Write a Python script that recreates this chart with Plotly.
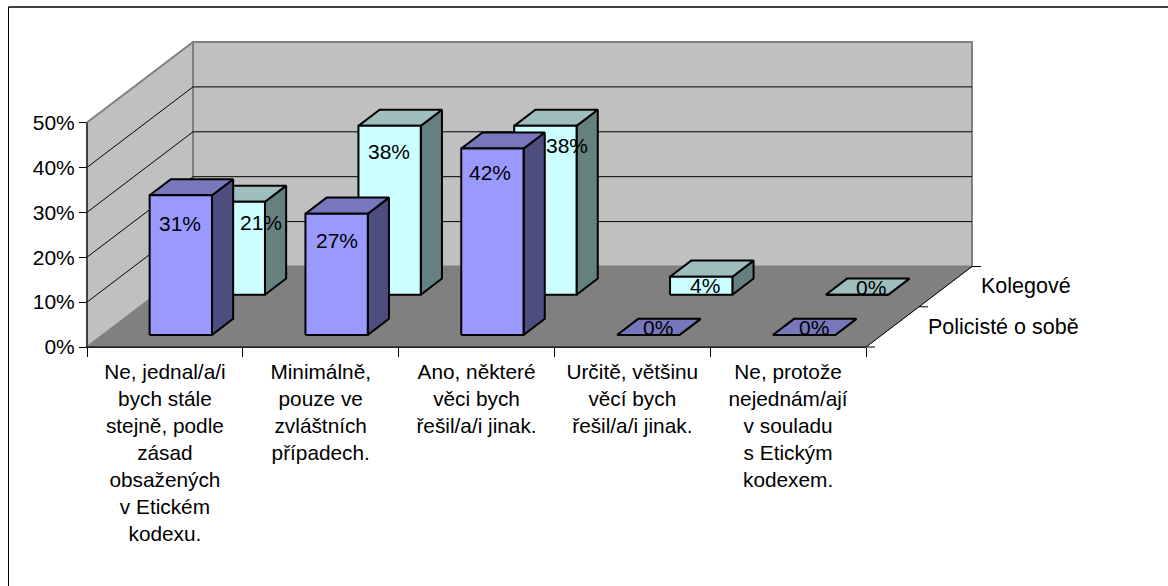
import plotly.graph_objects as go

categories = ["Ne, jednal/a/i<br>bych stále<br>stejně, podle<br>zásad<br>obsažených<br>v Etickém<br>kodexu.",
              "Minimálně,<br>pouze ve<br>zvláštních<br>případech.",
              "Ano, některé<br>věci bych<br>řešil/a/i jinak.",
              "Určitě, většinu<br>věcí bych<br>řešil/a/i jinak.",
              "Ne, protože<br>nejednám/ají<br>v souladu<br>s Etickým<br>kodexem."]
policiste = [31.1, 27.0, 41.5, 0, 0]
kolegove = [20.7, 37.6, 37.6, 4.0, 0]
series_names = ["Policisté o sobě", "Kolegové"]
value_ticks = [0, 10, 20, 30, 40, 50]
value_tick_labels = ["0%", "10%", "20%", "30%", "40%", "50%"]

W, H = 1168, 586
X0, X1, Y0, Y1 = 87, 866, 347, 122.5
PX_CAT = (X1 - X0) / 5
PX_PCT = (Y0 - Y1) / 50
DEPTH_X = 106 / PX_CAT      # category units per full depth
DEPTH_Y = 80.5 / PX_PCT     # percent units per full depth
YMAX = 50
NCAT = 5

WALL, FLOOR, EDGE = "#C0C0C0", "#808080", "#808080"
S1 = dict(front="#9999FF", top="#7777BB", side="#4D4D80")
S2 = dict(front="#CCFFFF", top="#9FBFBF", side="#668080")

fig = go.Figure()

def pr(c, v, d):
    return c + d * DEPTH_X, v + d * DEPTH_Y

def poly(pts, fill=None, line="black", width=2):
    xs, ys = zip(*[pr(*p) for p in pts + pts[:1]])
    fig.add_trace(go.Scatter(x=xs, y=ys, xaxis="x2", yaxis="y2", mode="lines",
                             fill="toself" if fill else None, fillcolor=fill,
                             line=dict(color=line, width=width),
                             hoverinfo="skip", showlegend=False))

def seg(a, b, color="black", width=1):
    xs, ys = zip(pr(*a), pr(*b))
    fig.add_trace(go.Scatter(x=xs, y=ys, xaxis="x2", yaxis="y2", mode="lines",
                             line=dict(color=color, width=width),
                             hoverinfo="skip", showlegend=False))

# the visible category/value axes need a trace of their own to be drawn
fig.add_trace(go.Scatter(x=[0], y=[0], mode="markers", opacity=0, hoverinfo="skip", showlegend=False))

# walls and floor
poly([(0, 0, 0), (0, YMAX, 0), (0, YMAX, 1), (0, 0, 1)], WALL, EDGE, 2)
poly([(0, 0, 1), (0, YMAX, 1), (NCAT, YMAX, 1), (NCAT, 0, 1)], WALL, EDGE, 2)
poly([(0, 0, 0), (0, 0, 1), (NCAT, 0, 1), (NCAT, 0, 0)], FLOOR, FLOOR, 1)
for v in value_ticks[1:-1]:
    seg((0, v, 0), (0, v, 1))
    seg((0, v, 1), (NCAT, v, 1))

# front axis lines and depth axis
seg((0, 0, 0), (NCAT, 0, 0))
seg((0, 0, 0), (0, YMAX, 0))
seg((NCAT, 0, 0), (NCAT, 0, 1))
TICK = 9 / PX_CAT
for d in (0, 0.5, 1):
    seg((NCAT, 0, d), (NCAT + TICK, 0, d))

def bar(i, v, d0, d1, col):
    c0, c1 = i + 0.3, i + 0.7
    poly([(c1, 0, d0), (c1, 0, d1), (c1, v, d1), (c1, v, d0)], col["side"])
    poly([(c0, v, d0), (c0, v, d1), (c1, v, d1), (c1, v, d0)], col["top"])
    poly([(c0, 0, d0), (c0, v, d0), (c1, v, d0), (c1, 0, d0)], col["front"])

for i, v in enumerate(kolegove):
    bar(i, v, 0.65, 0.85, S2)
for i, v in enumerate(policiste):
    bar(i, v, 0.15, 0.35, S1)

FS = 21
FONT = "Liberation Sans"
label_nudge_s1 = [(-1, 28), (0, 27), (-2, 24), (10, -7), (10, -7)]
label_nudge_s2 = [(27, 21), (-1, 26), (22, 20), (4, 9), (14, -7)]
ann = []
for vals, d, nudges in ((policiste, 0.15, label_nudge_s1), (kolegove, 0.65, label_nudge_s2)):
    for i, v in enumerate(vals):
        x, y = pr(i + 0.5, v, d)
        ann.append(dict(x=x, y=y, xref="x2", yref="y2", text=f"{v:.0f}%", showarrow=False,
                        xshift=nudges[i][0], yshift=-nudges[i][1],
                        font=dict(size=FS, color="black", family=FONT)))
for name, d, ys in ((series_names[0], 0.25, 0), (series_names[1], 0.75, 1)):
    x, y = pr(NCAT, 0, d)
    ann.append(dict(x=x, y=y, xref="x2", yref="y2", text=name, showarrow=False,
                    xanchor="left", xshift=33, yshift=ys, font=dict(size=21.5, color="black", family=FONT)))

fig.update_layout(
    width=W, height=H, margin=dict(l=0, r=0, t=0, b=0, pad=0, autoexpand=False), autosize=False,
    paper_bgcolor="white", plot_bgcolor="rgba(0,0,0,0)", showlegend=False,
    font=dict(family=FONT, size=FS, color="black"), annotations=ann,
    xaxis=dict(domain=[X0 / W, X1 / W], range=[0, NCAT], tickmode="array", anchor="y",
               tickvals=[i + 0.5 for i in range(NCAT)], ticktext=categories,
               ticks="outside", ticklen=6, tickcolor="rgba(0,0,0,0)", tickangle=0,
               tickfont=dict(size=20.8),
               minor=dict(tickmode="array", tickvals=list(range(NCAT + 1)), ticks="outside",
                          ticklen=9, tickcolor="black", tickwidth=1),
               showgrid=False, zeroline=False, showline=True, linecolor="black", linewidth=1),
    yaxis=dict(domain=[1 - Y0 / H, 1 - Y1 / H], range=[0, YMAX], tickmode="array", anchor="x",
               tickvals=value_ticks, ticktext=value_tick_labels,
               ticks="outside", ticklen=7, tickcolor="black", tickwidth=1,
               showgrid=False, zeroline=False, showline=True, linecolor="black", linewidth=1),
    xaxis2=dict(domain=[0, 1], range=[-X0 / PX_CAT, (W - X0) / PX_CAT], anchor="y2", visible=False),
    yaxis2=dict(domain=[0, 1], range=[(Y0 - H) / PX_PCT, Y0 / PX_PCT], anchor="x2", visible=False),
)
# chart frame: only the top and left edges fall inside the picture
FX, FY = -(X0 - 8.5) / PX_CAT, (Y0 - 7) / PX_PCT
fig.add_trace(go.Scatter(x=[FX, (W - X0) / PX_CAT], y=[FY, FY], xaxis="x2", yaxis="y2", mode="lines",
                         line=dict(color="#404040", width=2), hoverinfo="skip", showlegend=False))
fig.add_trace(go.Scatter(x=[FX, FX], y=[FY, (Y0 - H) / PX_PCT], xaxis="x2", yaxis="y2", mode="lines",
                         line=dict(color="black", width=1), hoverinfo="skip", showlegend=False))
fig.write_html("out.html", config={"displayModeBar": False},
               post_script="document.body.style.margin='0';")
